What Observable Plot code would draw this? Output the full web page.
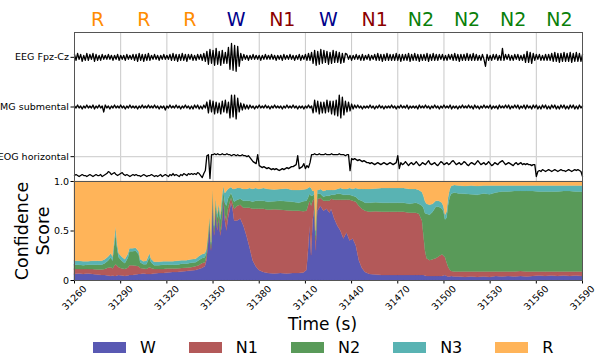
<!DOCTYPE html>
<html><head><meta charset="utf-8">
<script src="https://cdn.jsdelivr.net/npm/d3@7"></script>
<script src="https://cdn.jsdelivr.net/npm/@observablehq/plot@0.6"></script>
<style>
body{margin:0;background:#fff;font-family:"DejaVu Sans",sans-serif;}
#wrap{position:relative;width:595px;height:358px;overflow:hidden;background:#fff;}
#wrap svg{position:absolute;left:0;overflow:visible;background:none;}
#legend{position:absolute;left:93px;top:340px;height:15px;display:flex;gap:33px;align-items:center;font-size:16px;line-height:15px;color:#000;}
#legend .it{display:flex;align-items:center;gap:14px;height:15px;}
#legend .sw{width:33px;height:11px;}
</style></head><body><div id="wrap"><div id="legend"></div></div>
<script>
// ---------- data ----------
const stages = ["W", "N1", "N2", "N3", "R"];
const stageFill = ["#5959b3", "#b35959", "#599a59", "#59b3b3", "#ffb459"];
const epochStart = [31260, 31290, 31320, 31350, 31380, 31410, 31440, 31470, 31500, 31530, 31560];
const epochLabels = ["R", "R", "R", "W", "N1", "W", "N1", "N2", "N2", "N2", "N2"];
const labelColor = {R: "#ff8c00", W: "#00008b", N1: "#8b0000", N2: "#0a800a"};
const xTicks = [31260, 31290, 31320, 31350, 31380, 31410, 31440, 31470, 31500, 31530, 31560, 31590];
const channels = ["EEG Fpz-Cz", "EMG submental", "EOG horizontal"];

// signal traces (1 sample / s from 31260 to 31590, arbitrary amplitude units)
const eeg = [3,-3,4,-2,3,-4,2,-3,4,-3,3,-2,4,-4,3,-3,2,-3,3,-2,
 2,-2,3,-2,2,-3,2,-2,3,-3,2,-2,2,-3,3,-2,2,-2,3,-3,
 3,-4,4,-3,3,-4,3,-3,4,-3,2,-2,3,-2,2,-3,2,-2,3,-2,
 2,-2,3,-3,4,-3,3,-4,3,-3,4,-3,3,-4,3,-2,3,-3,2,-3,3,-2,3,-3,4,-4,
 6,-7,8,-6,7,-8,9,-7,6,-8,7,-6,5,-6,
 10,-12,14,-13,12,-14,11,-9,
 4,-3,3,-2,2,-3,2,-2,3,-2,2,-2,2,-3,2,-2,3,-2,2,-2,3,-2,2,-3,2,-2,2,-3,3,-2,2,-2,3,-2,2,-3,2,-2,3,-3,2,-2,3,-3,4,-3,5,
 -6,7,-8,6,-7,8,-6,7,-5,6,-7,5,-6,7,-5,6,-5,5,-6,4,-5,4,
 3,-2,2,-3,2,-2,3,-2,2,-3,3,-3,2,-2,3,-3,2,-2,3,-3,4,-3,3,-4,3,-3,4,-3,3,-3,
 3,-3,4,-3,3,-4,3,-3,3,-3,4,-4,3,-3,4,-3,3,-4,3,-3,3,-3,4,-4,3,-3,4,-3,3,-3,
 3,-2,3,-3,2,-3,3,-2,3,-3,4,-3,3,-4,3,-3,3,-3,4,-3,3,-3,4,-3,3,-3,2,-3,3,-2,
 -9,
 3,-3,2,-3,3,-2,3,-3,2,-3,
 9,
 -3,3,-2,3,-3,2,-3,3,-2,3,-3,2,-3,3,
 -5,6,-5,5,-6,4,
 -3,3,-2,3,-3,2,-3,3,-3,3,-3,
 4,-4,5,-4,4,-5,4,-4,5,-4,4,-4,5,-5,4,-4,5,-4,4,-4,3];
const emg = [1,-1,2,-1,1,-2,1,-1,2,-1,1,-1,2,-2,1,-1,2,-1,1,-5,
 2,-1,1,-2,1,-1,2,-1,1,-1,2,-1,1,-2,1,-1,2,-1,1,-1,
 1,-2,1,-1,2,-1,1,-1,2,-1,1,-1,2,-1,1,-2,1,-1,1,-3,
 1,-1,2,-1,1,-1,2,-1,1,-2,1,-1,2,-1,1,-2,1,-2,2,-1,2,-2,1,-2,2,-1,
 5,-6,7,-5,6,-7,5,-6,4,-7,6,-5,7,-6,5,
 -11,12,-10,12,-12,9,
 -5,4,-3,3,-2,2,-2,2,
 -1,1,-2,1,-1,2,-1,1,-1,2,-1,1,-2,1,-1,2,-1,1,-1,1,
 -2,1,-1,2,-1,1,-1,2,-1,1,-2,1,-1,1,-2,1,-1,2,-1,1,
 -6,7,-5,6,-7,5,-6,5,-6,7,-5,6,-7,6,-8,7,-9,12,-11,10,-8,6,-5,5,-4,3,
 -2,2,-1,2,-1,1,-2,1,-1,1,-1,2,-1,1,-2,1,-1,2,-1,1,
 -2,1,-1,1,-1,2,-1,1,-2,1,-1,2,-1,1,-1,2,-2,1,-1,1,
 -1,1,-2,2,-1,1,-1,2,-1,1,-2,1,-1,2,-1,1,-2,1,-1,2,
 -1,1,-1,2,-2,1,-1,1,-2,1,-1,2,-1,1,-1,2,-1,1,-2,2,
 -1,1,-2,1,-1,2,-1,1,-1,2,-2,1,-1,1,-2,2,-1,1,-1,2,
 -1,2,-2,1,-1,2,-1,2,-2,1,-1,2,-2,2,-1,1,-2,2,-1,2,
 -2,1,-2,2,-1,2,-2,1,-2,2,-1,2,-2,1,-2,2,-1,2,-2,1,
 -2,2,-1,2,-2,1,-2,2,-1,1];
const eog = [-19,-18,-19,-20,-19,-18,-19,-19,-20,-19,-18,-19,-20,-19,-18,-19,-19,-18,-20,-19,
 -18,-17,-15,-16,-18,-17,-16,-18,-19,-18,-17,-16,-18,-19,-18,-19,-20,-19,-18,-19,
 -18,-19,-19,-20,-19,-18,-19,-20,-19,-19,-18,-19,-20,-19,-20,-19,-18,-20,-19,-18,
 -19,-20,-18,-19,-17,-19,-18,-19,-20,-18,-19,-17,-18,-19,-17,-18,-17,-18,-17,-18,
 -16,-17,-19,-21,
 -17,-14,1,2,-22,2,2,
 3,2,3,2,2,3,2,2,3,2,2,1,2,2,1,2,1,1,2,1,1,0,1,
 -1,-3,-5,-6,-7,
 2,
 -9,-10,-11,-10,-11,-12,-11,-12,-13,-12,-13,-12,-13,-14,-13,-12,-13,-12,-11,-12,-11,-10,-10,-9,-8,
 1,
 -12,-11,-10,-7,-12,-9,-11,-6,
 2,2,3,2,2,3,2,2,2,3,2,2,2,3,2,2,2,2,3,2,2,2,1,2,2,
 -14,
 -2,-3,-2,-3,-4,-3,-4,-5,-4,-5,-6,
 -6,-7,-6,-7,-8,-7,-6,-7,-8,-7,-6,-7,-8,-7,-6,-7,-8,-7,-6,
 1,-12,
 -6,-8,-7,-5,-7,-9,-7,-6,-8,-7,-5,-7,-9,-8,-6,-7,-8,-6,-4,-7,
 -8,-7,-6,-8,-9,-7,-5,-6,-8,-7,-6,-8,-7,-5,-4,-6,-8,-7,-6,-8,
 -7,-5,-6,-8,-9,-7,-6,-7,-8,-6,-4,-6,-8,-7,-6,-8,-7,-5,-7,-9,
 -8,-6,-7,-8,-6,-5,-4,-6,-8,-7,-6,-7,-8,-9,-7,-6,-8,-7,-6,-8,
 -7,-8,-7,-8,-8,-9,-8,-8,
 -20,
 -15,-14,-15,-13,-14,-15,-14,-13,-14,-15,-14,-13,-14,-15,-14,-13,-14,-14,-15,-14,
 -13,-14,-15,-14,-13,-14,-13,-14,-15,
 -20];

// confidence scores
const cTime = [31260,31263,31266,31269,31272,31275,31278,31280,31282,31284,31285,31286,31287,31288,31289,31291,31293,31295,31296,31298,31300,31302,31303,31305,31307,31309,31310,31312,31315,31318,31321,31324,31327,31330,31333,31336,31339,31341,31343,31345,31346,31347,31348,31349,31350,31351,31352,31353,31354,31355,31356,31357,31358,31359,31360,31361,31362,31363,31364,31366,31368,31370,31372,31374,31376,31378,31380,31383,31386,31390,31394,31398,31402,31406,31409,31411,31412,31413,31414,31415,31416,31417,31418,31419,31420,31422,31424,31426,31427,31429,31431,31433,31435,31437,31439,31441,31443,31445,31447,31449,31452,31456,31460,31465,31470,31474,31478,31482,31484,31486,31487,31488,31489,31491,31493,31495,31497,31499,31500,31501,31502,31503,31504,31505,31507,31510,31514,31518,31522,31526,31530,31534,31538,31542,31546,31550,31554,31558,31562,31566,31570,31574,31578,31582,31586,31590];
const cW = [.06,.065,.06,.065,.06,.055,.05,.05,.045,.04,.045,.04,.04,.045,.05,.045,.04,.045,.05,.05,.055,.06,.06,.065,.06,.06,.06,.065,.07,.07,.075,.08,.08,.085,.09,.095,.1,.11,.12,.14,.2,.35,.55,.3,.85,.45,.7,.5,.62,.45,.55,.8,.6,.5,.62,.7,.78,.72,.6,.6,.62,.55,.45,.33,.2,.14,.1,.08,.07,.065,.07,.065,.07,.07,.075,.1,.3,.55,.25,.6,.72,.3,.7,.72,.75,.7,.72,.68,.72,.62,.55,.5,.42,.48,.4,.42,.35,.2,.12,.08,.06,.055,.05,.05,.05,.05,.05,.05,.05,.05,.05,.045,.04,.04,.04,.04,.04,.04,.045,.05,.04,.035,.035,.04,.035,.035,.03,.035,.03,.035,.03,.04,.035,.04,.035,.04,.035,.04,.045,.04,.045,.04,.045,.04,.045,.04];
const cN1 = [.05,.045,.05,.045,.05,.05,.055,.06,.08,.09,.07,.1,.12,.1,.08,.07,.07,.08,.1,.1,.09,.08,.06,.05,.05,.07,.06,.045,.04,.04,.04,.035,.035,.035,.035,.035,.04,.04,.05,.04,.04,.03,.02,.02,.02,.03,.03,.03,.03,.04,.05,.03,.06,.1,.1,.08,.05,.06,.12,.15,.14,.18,.28,.4,.52,.58,.62,.64,.64,.65,.64,.64,.63,.63,.62,.6,.45,.25,.5,.2,.1,.1,.12,.1,.08,.1,.08,.12,.1,.19,.26,.31,.39,.33,.41,.38,.44,.55,.6,.62,.63,.64,.64,.64,.64,.64,.63,.63,.62,.55,.4,.25,.18,.16,.17,.18,.2,.22,.2,.18,.14,.1,.07,.05,.05,.05,.055,.05,.055,.05,.055,.045,.05,.045,.05,.05,.05,.045,.04,.045,.04,.045,.04,.045,.04,.045];
const cN2 = [.045,.045,.04,.045,.045,.05,.05,.06,.07,.1,.08,.2,.3,.17,.1,.08,.06,.1,.14,.14,.15,.12,.06,.045,.05,.1,.06,.04,.04,.045,.04,.04,.04,.045,.04,.045,.04,.05,.05,.05,.04,.05,.05,.04,.03,.05,.07,.1,.08,.12,.15,.07,.12,.15,.1,.07,.05,.06,.07,.06,.06,.07,.07,.07,.07,.08,.08,.08,.08,.08,.09,.09,.09,.08,.1,.1,.08,.07,.1,.05,.05,.05,.05,.05,.04,.04,.05,.05,.04,.05,.06,.06,.05,.05,.05,.05,.05,.06,.08,.08,.09,.09,.09,.09,.09,.09,.09,.1,.1,.15,.28,.38,.45,.46,.48,.52,.5,.46,.45,.38,.45,.62,.73,.78,.8,.79,.785,.78,.775,.79,.78,.8,.81,.81,.815,.81,.815,.815,.81,.81,.81,.81,.815,.815,.81,.81];
const cN3 = [.04,.04,.04,.035,.04,.04,.04,.04,.04,.04,.04,.05,.08,.05,.04,.04,.04,.04,.03,.03,.03,.03,.03,.03,.035,.04,.035,.035,.035,.035,.035,.035,.04,.035,.035,.035,.035,.04,.04,.04,.03,.02,.02,.02,.02,.02,.03,.04,.04,.05,.08,.05,.1,.15,.1,.08,.06,.08,.13,.12,.11,.12,.12,.13,.13,.13,.12,.13,.13,.12,.12,.13,.12,.13,.12,.12,.1,.07,.08,.05,.03,.05,.04,.04,.05,.06,.06,.06,.05,.05,.05,.06,.06,.06,.07,.07,.09,.11,.12,.14,.14,.14,.15,.15,.15,.15,.15,.14,.14,.14,.12,.12,.1,.1,.08,.06,.06,.06,.05,.05,.06,.08,.08,.08,.075,.08,.08,.09,.09,.08,.09,.07,.06,.06,.055,.055,.055,.055,.06,.06,.06,.06,.055,.055,.06,.06];
const cR = [.805,.805,.81,.81,.805,.805,.805,.79,.765,.73,.765,.61,.46,.635,.73,.765,.79,.735,.68,.68,.675,.71,.79,.81,.805,.73,.785,.815,.815,.81,.81,.81,.805,.8,.8,.79,.785,.76,.74,.73,.69,.55,.36,.62,.08,.45,.17,.33,.23,.34,.17,.05,.12,.1,.08,.07,.06,.08,.08,.07,.07,.08,.08,.07,.08,.07,.08,.07,.08,.085,.08,.075,.09,.09,.085,.08,.07,.06,.07,.1,.1,.5,.09,.09,.08,.1,.09,.09,.09,.09,.08,.07,.08,.08,.07,.08,.07,.08,.08,.08,.08,.075,.07,.07,.07,.07,.08,.08,.09,.11,.15,.205,.23,.24,.23,.2,.2,.22,.255,.34,.31,.165,.085,.05,.04,.045,.05,.045,.05,.045,.045,.045,.045,.045,.045,.045,.045,.045,.045,.045,.045,.045,.045,.045,.045,.045];

// ---------- build tables ----------
const t0 = 31260, t1 = 31590;
const offsets = [0, -50, -100];
const traceRows = [];
[eeg, emg, eog].forEach((arr, c) => {
  const step = (t1 - t0) / (arr.length - 1);
  arr.forEach((v, i) => traceRows.push({t: t0 + i * step, y: offsets[c] + v, ch: channels[c]}));
});
const series = [cW, cN1, cN2, cN3, cR];
const confRows = [];
cTime.forEach((t, i) => stages.forEach((s, k) => confRows.push({t, stage: s, p: series[k][i]})));

const font = "DejaVu Sans, sans-serif";
const wrap = document.getElementById("wrap");

// ---------- top panel ----------
const topMarks = [
  Plot.ruleX(xTicks, {stroke: "#c8c8c8", strokeWidth: 1}),
  Plot.ruleY(offsets, {stroke: "#d4d4d4", strokeWidth: 1.2}),
  Plot.line(traceRows, {x: "t", y: "y", z: "ch", stroke: "black", strokeWidth: 1.3}),
  Plot.frame({stroke: "#555"})
];
epochStart.forEach((s, i) => {
  topMarks.push(Plot.text([s + 15], {x: d => d, frameAnchor: "top", dy: -13, lineAnchor: "middle",
    text: () => epochLabels[i], fill: labelColor[epochLabels[i]], fontSize: 19}));
});
const topPlot = Plot.plot({
  width: 595, height: 181, marginTop: 32, marginBottom: 0, marginLeft: 74, marginRight: 13,
  style: {fontFamily: font, fontSize: "9.5px", background: "none", color: "#000"},
  x: {domain: [t0, t1], axis: null},
  y: {domain: [-125, 25], ticks: offsets, tickFormat: d => channels[offsets.indexOf(d)],
      tickSize: 3.5, tickPadding: 2, label: null},
  marks: topMarks
});
topPlot.style.top = "0px";
wrap.appendChild(topPlot);

// ---------- bottom panel ----------
const botPlot = Plot.plot({
  width: 595, height: 164, marginTop: 10, marginBottom: 55, marginLeft: 74, marginRight: 13,
  style: {fontFamily: font, fontSize: "9.5px", background: "none", color: "#000"},
  x: {domain: [t0, t1], ticks: xTicks, tickFormat: () => "", tickSize: 3.5, label: null},
  y: {domain: [0, 1], ticks: [0, 0.5, 1], tickFormat: d => d === 0 ? "0" : d.toFixed(1),
      tickSize: 3.5, tickPadding: 2, label: null},
  color: {domain: stages, range: stageFill},
  marks: [
    Plot.areaY(confRows, Plot.stackY({x: "t", y: "p", fill: "stage", stroke: "stage", strokeWidth: 0.3, curve: "linear"})),
    Plot.frame({stroke: "#555"}),
    Plot.text(xTicks, {x: d => d, text: d => String(d), frameAnchor: "bottom", dy: 17.5,
      rotate: -45, textAnchor: "middle", lineAnchor: "middle", fontSize: 9.5}),
    Plot.text(["Time (s)"], {frameAnchor: "bottom", dy: 44.5, dx: -6, lineAnchor: "middle", fontSize: 17}),
    Plot.text(["Confidence\nScore"], {frameAnchor: "left", dx: -42.5, rotate: -90, lineAnchor: "middle",
      textAnchor: "middle", lineHeight: 1.2, fontSize: 17.5})
  ]
});
botPlot.style.top = "171px";
wrap.appendChild(botPlot);

// ---------- legend ----------
const lg = document.getElementById("legend");
stages.forEach((s, k) => {
  const it = document.createElement("div"); it.className = "it";
  const sw = document.createElement("div"); sw.className = "sw"; sw.style.background = stageFill[k];
  const tx = document.createElement("span"); tx.textContent = s;
  it.appendChild(sw); it.appendChild(tx); lg.appendChild(it);
});
</script></body></html>
